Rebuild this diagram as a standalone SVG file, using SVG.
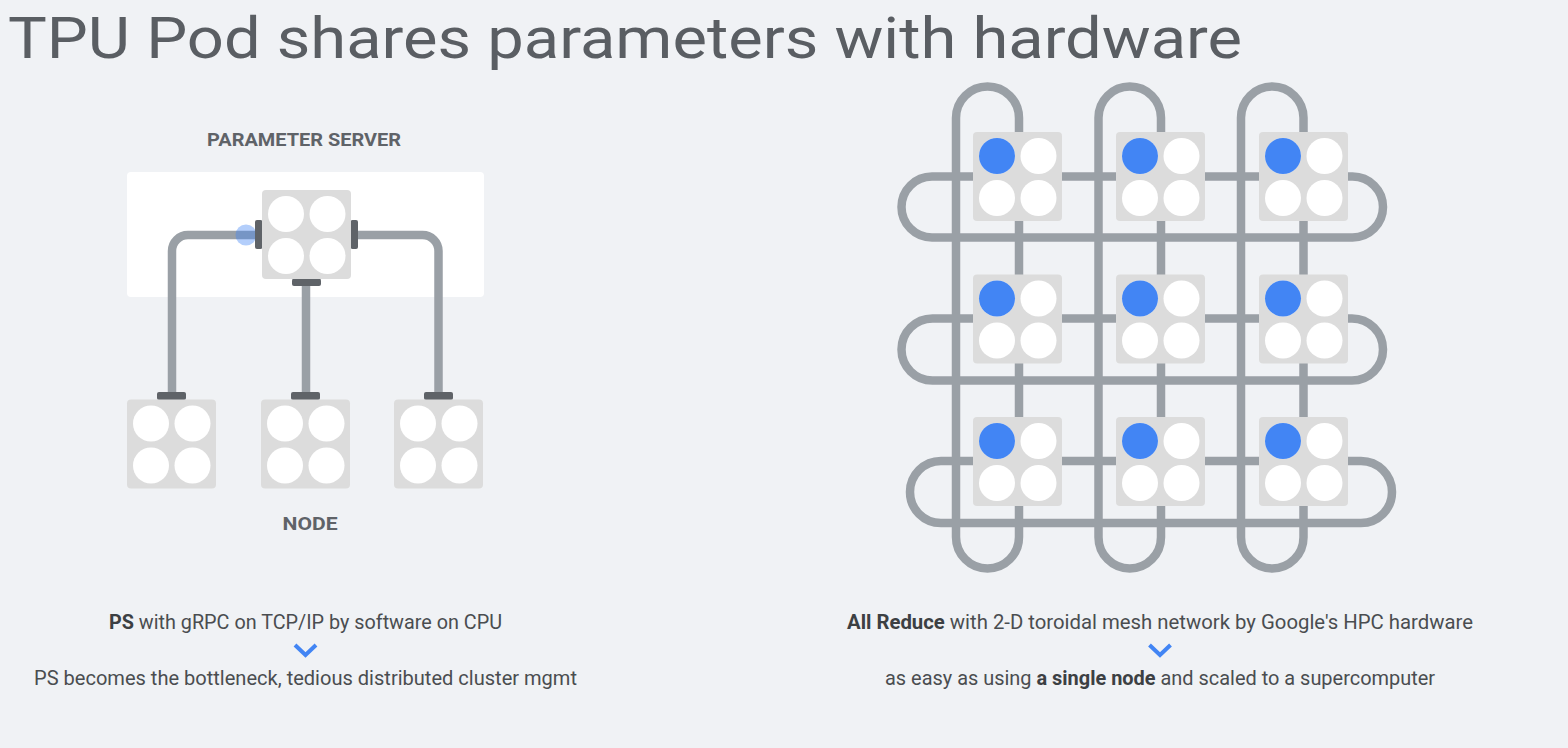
<svg xmlns="http://www.w3.org/2000/svg" width="1568" height="748" viewBox="0 0 1568 748">
<style>
.pipe{fill:none;stroke:#9aa0a6;stroke-width:8.5}
.chip{fill:#dcdcdc}
.w{fill:#ffffff}
.b{fill:#4285f4}
.bar{fill:#5f6368}
.lbl{font-family:Roboto,"Liberation Sans",sans-serif;font-weight:bold;fill:#5f6368}
.txt{font-family:Roboto,"Liberation Sans",sans-serif;fill:#4a4d50;font-size:19.5px}
.bold{font-weight:bold;fill:#3c4043}
.chev{fill:none;stroke:#4285f4;stroke-width:4}
</style>
<defs>
<g id="quad">
<rect class="chip" x="0" y="0" width="89" height="89" rx="4"/>
<circle class="w" cx="24" cy="24" r="18"/>
<circle class="w" cx="65.5" cy="24" r="18"/>
<circle class="w" cx="24" cy="66" r="18"/>
<circle class="w" cx="65.5" cy="66" r="18"/>
</g>
<g id="mquad">
<use href="#quad"/>
<circle class="b" cx="24" cy="24" r="18"/>
</g>
</defs>
<rect x="0" y="0" width="1568" height="748" fill="#f0f2f5"/>
<text x="8" y="58" font-family="Roboto,'Liberation Sans',sans-serif" font-size="58" fill="#5a5e63" textLength="1234" lengthAdjust="spacingAndGlyphs">TPU Pod shares parameters with hardware</text>

<rect x="127" y="172" width="357" height="125" rx="4" fill="#ffffff"/>
<text class="lbl" x="304" y="145.5" font-size="17.5" text-anchor="middle" textLength="194" lengthAdjust="spacingAndGlyphs">PARAMETER SERVER</text>
<text class="lbl" x="310" y="530" font-size="18" text-anchor="middle" textLength="55" lengthAdjust="spacingAndGlyphs">NODE</text>

<g id="connectors">
<path class="pipe" d="M255 235 H188 A16 16 0 0 0 172 251 V392"/>
<path class="pipe" d="M357 235 H422.5 A16 16 0 0 1 438.5 251 V392"/>
<path class="pipe" d="M306 286 V392"/>
<rect class="pipe" x="956" y="86.5" width="63" height="482" rx="31.5"/>
<rect class="pipe" x="1098.5" y="86.5" width="62.5" height="482" rx="31.25"/>
<rect class="pipe" x="1241" y="86.5" width="62.5" height="482" rx="31.25"/>
<rect class="pipe" x="901.5" y="176.5" width="481.5" height="61" rx="30.5"/>
<rect class="pipe" x="901.5" y="318.5" width="481.5" height="62" rx="31"/>
<rect class="pipe" x="910" y="461" width="482" height="62" rx="31"/>
</g>

<g id="ps">
<circle cx="246" cy="235" r="10.5" fill="#4285f4" opacity="0.4"/>
<rect class="bar" x="255" y="220" width="7.5" height="29" rx="2"/>
<rect class="bar" x="350.5" y="220" width="7.5" height="29" rx="2"/>
<rect class="bar" x="292" y="278.5" width="29" height="7.5" rx="2"/>
<use href="#quad" x="262" y="190"/>
</g>
<g id="node1">
<rect class="bar" x="157" y="392" width="29" height="8" rx="2"/>
<use href="#quad" x="127" y="399.5"/>
</g>
<g id="node2">
<rect class="bar" x="291" y="392" width="29" height="8" rx="2"/>
<use href="#quad" x="261" y="399.5"/>
</g>
<g id="node3">
<rect class="bar" x="424" y="392" width="29" height="8" rx="2"/>
<use href="#quad" x="394" y="399.5"/>
</g>

<g id="tpu11"><use href="#mquad" x="973" y="132"/></g>
<g id="tpu12"><use href="#mquad" x="1116" y="132"/></g>
<g id="tpu13"><use href="#mquad" x="1259" y="132"/></g>
<g id="tpu21"><use href="#mquad" x="973" y="274.5"/></g>
<g id="tpu22"><use href="#mquad" x="1116" y="274.5"/></g>
<g id="tpu23"><use href="#mquad" x="1259" y="274.5"/></g>
<g id="tpu31"><use href="#mquad" x="973" y="417"/></g>
<g id="tpu32"><use href="#mquad" x="1116" y="417"/></g>
<g id="tpu33"><use href="#mquad" x="1259" y="417"/></g>

<text class="txt" x="305.5" y="629" text-anchor="middle" textLength="393" lengthAdjust="spacingAndGlyphs"><tspan class="bold">PS</tspan> with gRPC on TCP/IP by software on CPU</text>
<path class="chev" d="M295 645 L305.5 655 L316 645"/>
<text class="txt" x="305.5" y="685" text-anchor="middle" textLength="543" lengthAdjust="spacingAndGlyphs">PS becomes the bottleneck, tedious distributed cluster mgmt</text>

<text class="txt" x="1160" y="629" text-anchor="middle" textLength="626" lengthAdjust="spacingAndGlyphs"><tspan class="bold">All Reduce</tspan> with 2-D toroidal mesh network by Google's HPC hardware</text>
<path class="chev" d="M1149.5 645 L1160 655 L1170.5 645"/>
<text class="txt" x="1160" y="685" text-anchor="middle" textLength="550" lengthAdjust="spacingAndGlyphs">as easy as using <tspan class="bold">a single node</tspan> and scaled to a supercomputer</text>
</svg>
